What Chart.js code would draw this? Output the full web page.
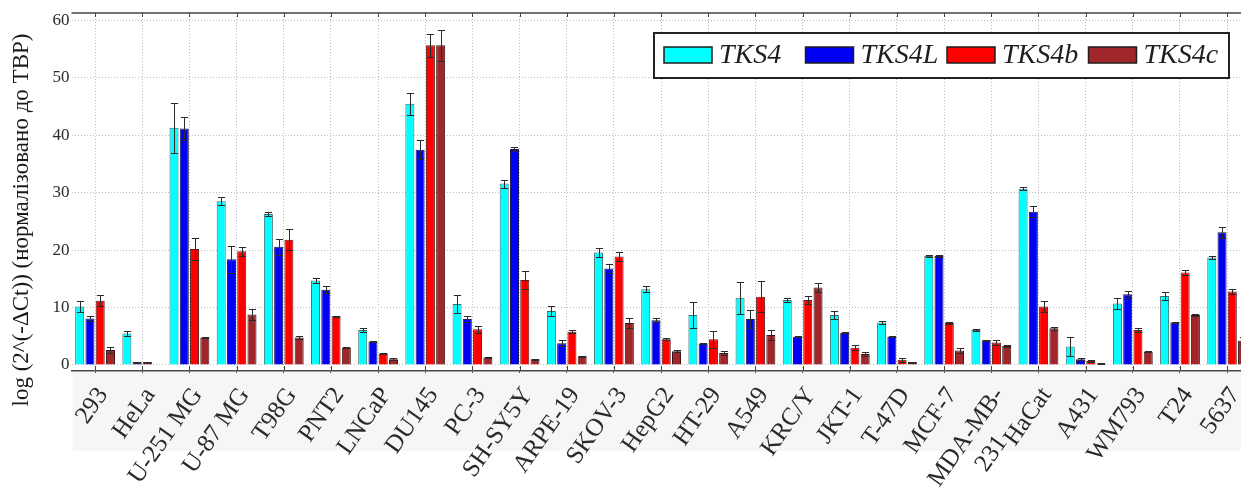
<!DOCTYPE html>
<html>
<head>
<meta charset="utf-8">
<script src="https://cdn.jsdelivr.net/npm/chart.js@4.4.1/dist/chart.umd.min.js"></script>
<style>
  html, body { margin: 0; padding: 0; background: #fff; overflow: hidden; }
  #wrap { width: 1252px; height: 487px; }
</style>
</head>
<body>
<div id="wrap"><canvas id="c" width="1252" height="487"></canvas></div>
<script>
// Cell lines (x categories); the second line of MDA-MB-231 is padded so it sits centred under the first
const categories = ['293', 'HeLa', 'U-251 MG', 'U-87 MG', 'T98G', 'PNT2', 'LNCaP', 'DU145', 'PC-3',
  'SH-SY5Y', 'ARPE-19', 'SKOV-3', 'HepG2', 'HT-29', 'A549', 'KRC/Y', 'JKT-1', 'T-47D', 'MCF-7',
  ['MDA-MB-', '231      '], 'HaCat', 'A431', 'WM793', 'T24', '5637'];

const seriesNames = ['TKS4', 'TKS4L', 'TKS4b', 'TKS4c'];

// Expression values and their error (half-width)
const tks4     = [10.2, 5.5, 41.3, 28.5, 26.3, 14.7, 6.1, 45.5, 10.6, 31.6, 9.4, 19.6, 13.2, 8.7, 11.7, 11.3, 8.7, 7.4, 19.0, 6.1, 30.7, 3.2, 10.7, 12.0, 18.7];
const tks4Err  = [1.0, 0.4, 4.4, 0.7, 0.3, 0.4, 0.4, 1.9, 1.5, 0.7, 0.9, 0.8, 0.5, 2.3, 2.8, 0.4, 0.7, 0.2, 0.2, 0.2, 0.3, 1.6, 0.9, 0.7, 0.2];
const tks4L    = [8.1, 0.5, 41.2, 18.4, 20.6, 13.1, 4.1, 37.5, 8.0, 37.6, 3.8, 16.8, 7.8, 3.7, 8.0, 4.9, 5.6, 4.9, 19.0, 4.3, 26.7, 1.0, 12.3, 7.4, 23.1];
const tks4LErr = [0.4, 0.1, 2.0, 2.4, 1.4, 0.6, 0.1, 1.7, 0.6, 0.3, 0.5, 0.7, 0.4, 0.1, 1.6, 0.1, 0.1, 0.1, 0.2, 0.1, 1.0, 0.2, 0.6, 0.1, 0.9];
const tks4b    = [11.2, 0.5, 20.2, 19.8, 21.8, 8.5, 2.0, 55.7, 6.2, 14.8, 5.8, 18.9, 4.5, 4.5, 11.9, 11.3, 3.0, 0.9, 7.3, 3.9, 10.2, 0.7, 6.1, 16.1, 12.8];
const tks4bErr = [0.9, 0.1, 1.9, 0.8, 1.8, 0.1, 0.1, 2.0, 0.6, 1.6, 0.3, 0.8, 0.2, 1.5, 2.7, 0.7, 0.4, 0.4, 0.1, 0.4, 1.0, 0.1, 0.4, 0.5, 0.4];
const tks4c    = [2.6, 0, 4.8, 8.8, 4.8, 3.0, 1.0, 55.7, 1.3, 1.0, 1.5, 7.3, 2.4, 2.1, 5.2, 13.5, 1.9, 0.5, 2.5, 3.3, 6.4, 0.3, 2.3, 8.7, 4.2];
const tks4cErr = [0.6, 0, 0.1, 1.0, 0.3, 0.1, 0.2, 2.7, 0.1, 0.1, 0.1, 0.8, 0.2, 0.3, 0.9, 0.8, 0.3, 0.1, 0.4, 0.2, 0.3, 0.1, 0.1, 0.2, 0.6];

// Y axis tick labels
const yTicks = [0, 10, 20, 30, 40, 50, 60];

const yTitle = 'log (2^(-ΔCt)) (нормалізовано до ТВР)';

const fills   = ['#00ffff', '#0000f5', '#ff0000', '#a12629'];
const strokes = ['#3c6e6e', '#1c1c50', '#5a1c1c', '#3a1414'];
const values  = [tks4, tks4L, tks4b, tks4c];
const errors  = [tks4Err, tks4LErr, tks4bErr, tks4cErr];

const SERIF = '"Liberation Serif", "DejaVu Serif", serif';

// Light panel behind the rotated category labels
const labelPanel = {
  id: 'labelPanel',
  beforeDraw(chart) {
    const { ctx, chartArea } = chart;
    ctx.save();
    ctx.fillStyle = '#f6f6f6';
    ctx.fillRect(chartArea.left + 1, chartArea.bottom + 1, chart.width - chartArea.left, 79);
    ctx.restore();
  }
};

// Symmetric error bars with caps, placed by the chart's own scales
const errorBars = {
  id: 'errorBars',
  afterDatasetsDraw(chart) {
    const { ctx } = chart;
    const yScale = chart.scales.y;
    ctx.save();
    ctx.strokeStyle = '#2b2b2b';
    ctx.lineWidth = 1;
    chart.data.datasets.forEach((ds, di) => {
      const meta = chart.getDatasetMeta(di);
      meta.data.forEach((bar, i) => {
        const v = ds.data[i];
        const e = errors[di][i];
        if (!e) return;
        const yHi = Math.round(yScale.getPixelForValue(v + e)) + 0.5;
        const yLo = Math.round(yScale.getPixelForValue(Math.max(v - e, 0))) + 0.5;
        const x = Math.round(bar.x) + 0.5;
        const cap = bar.width * 0.4;
        ctx.beginPath();
        ctx.moveTo(x, yHi); ctx.lineTo(x, yLo);
        ctx.moveTo(x - cap, yHi); ctx.lineTo(x + cap, yHi);
        ctx.moveTo(x - cap, yLo); ctx.lineTo(x + cap, yLo);
        ctx.stroke();
      });
    });
    ctx.restore();
  }
};

// Top frame line, inward tick marks, y title and the boxed legend
const frameAndLegend = {
  id: 'frameAndLegend',
  afterDraw(chart) {
    const { ctx, chartArea } = chart;
    const xScale = chart.scales.x;
    ctx.save();
    // top frame
    ctx.strokeStyle = '#444';
    ctx.lineWidth = 1.5;
    ctx.beginPath();
    ctx.moveTo(chartArea.left, chartArea.top);
    ctx.lineTo(chart.width, chartArea.top);
    ctx.stroke();
    ctx.lineWidth = 1;
    categories.forEach((c, i) => {
      const x = Math.round(xScale.getPixelForValue(i)) + 0.5;
      ctx.beginPath();
      ctx.moveTo(x, chartArea.top);
      ctx.lineTo(x, chartArea.top + 4);
      ctx.moveTo(x, chartArea.bottom);
      ctx.lineTo(x, chartArea.bottom - 5);
      ctx.stroke();
    });

    // y axis title
    ctx.fillStyle = '#1a1a1a';
    ctx.font = '23px ' + SERIF;
    ctx.textAlign = 'center';
    ctx.textBaseline = 'middle';
    ctx.translate(22, 220);
    ctx.rotate(-Math.PI / 2);
    ctx.fillText(yTitle, 0, 0);
    ctx.setTransform(1, 0, 0, 1, 0, 0);

    // legend box
    const bx = 654, by = 33, bw = 575, bh = 45;
    ctx.fillStyle = '#ffffff';
    ctx.fillRect(bx, by, bw, bh);
    ctx.strokeStyle = '#222';
    ctx.lineWidth = 2;
    ctx.strokeRect(bx, by, bw, bh);
    const slot = 141.5;
    ctx.font = 'italic 28px ' + SERIF;
    ctx.textAlign = 'left';
    ctx.textBaseline = 'middle';
    chart.data.datasets.forEach((ds, i) => {
      const sx = bx + 10 + slot * i;
      ctx.fillStyle = ds.backgroundColor;
      ctx.fillRect(sx, 47, 48, 16);
      ctx.strokeStyle = '#1e1e1e';
      ctx.lineWidth = 1.5;
      ctx.strokeRect(sx, 47, 48, 16);
      ctx.fillStyle = '#1e1e1e';
      ctx.fillText(ds.label, sx + 55, 56);
    });
    ctx.restore();
  }
};

new Chart(document.getElementById('c'), {
  type: 'bar',
  data: {
    labels: categories,
    datasets: seriesNames.map((name, i) => ({
      label: name,
      data: values[i],
      backgroundColor: fills[i],
      borderColor: strokes[i],
      borderWidth: 1,
      categoryPercentage: 0.87,
      barPercentage: 0.88
    }))
  },
  options: {
    responsive: false,
    animation: false,
    layout: { padding: { left: 0, right: 1.25, top: 13, bottom: 0 } },
    plugins: {
      legend: { display: false },
      tooltip: { enabled: false }
    },
    scales: {
      x: {
        offset: true,
        afterFit(scale) {
          scale.height = 116;
          scale.paddingLeft = 0;
          scale.paddingRight = 0;
        },
        grid: {
          display: true,
          offset: false,
          color: '#bdbdbd',
          drawTicks: true,
          tickLength: 2,
          tickColor: '#444',
          tickBorderDash: []
        },
        border: { display: true, color: '#444', width: 1.5, dash: [1, 2] },
        ticks: {
          autoSkip: false,
          maxRotation: 55,
          minRotation: 55,
          padding: 9,
          labelOffset: 8,
          color: '#2a2a2a',
          font: { family: SERIF, size: 25 }
        }
      },
      y: {
        min: -1.05,
        max: 61.3,
        afterFit(scale) { scale.width = 71.5; },
        afterBuildTicks(scale) {
          scale.ticks = yTicks.map(v => ({ value: v }));
        },
        grid: {
          color: '#bdbdbd',
          drawTicks: false
        },
        border: { display: false, dash: [1, 2] },
        ticks: {
          padding: 2,
          color: '#2a2a2a',
          font: { family: SERIF, size: 17 }
        }
      }
    }
  },
  plugins: [labelPanel, errorBars, frameAndLegend]
});
</script>
</body>
</html>
